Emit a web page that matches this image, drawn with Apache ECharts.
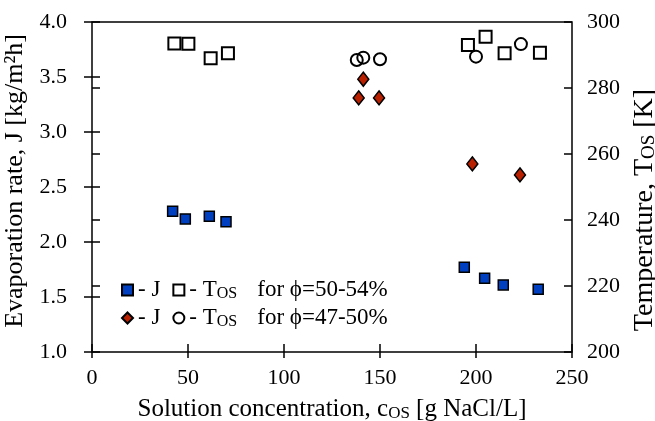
<!DOCTYPE html>
<html><head><meta charset="utf-8">
<script src="https://cdn.jsdelivr.net/npm/echarts@6/dist/echarts.min.js"></script>
<style>html,body{margin:0;padding:0;background:#fff}#c{width:655px;height:421px}</style>
</head><body><div id="c"></div>
<script>
// Data
const j50X = [42.0, 48.6, 61.1, 69.8, 193.9, 204.5, 214.2, 232.4];
const j50Y = [2.28, 2.21, 2.235, 2.185, 1.77, 1.67, 1.61, 1.57];
const t50X = [42.9, 50.2, 61.8, 70.8, 195.8, 205.0, 214.9, 233.3];
const t50Y = [293.5, 293.4, 289.0, 290.5, 293.0, 295.5, 290.5, 290.7];
const j47X = [141.3, 138.9, 149.5, 198.1, 222.9];
const j47Y = [3.48, 3.31, 3.31, 2.71, 2.61];
const t47X = [137.9, 141.3, 150.0, 200.0, 223.4];
const t47Y = [288.5, 289.2, 288.7, 289.5, 293.3];
const xTicks = [0, 50, 100, 150, 200, 250];
const jTicks = [1.0, 1.5, 2.0, 2.5, 3.0, 3.5, 4.0];
const tTicks = [200, 220, 240, 260, 280, 300];

const zip = (a, b) => a.map((v, i) => [v, b[i]]);
const F = 'Liberation Serif, Times New Roman, serif';

const chart = echarts.init(document.getElementById('c'), null, {renderer: 'canvas'});
const baseY = (min, max, interval, pos, inside, showLabel, margin, fmt) => ({
  type: 'value', position: pos, min, max, interval,
  splitLine: {show: false},
  axisLine: {show: false},
  axisTick: {show: true, inside, length: 8, lineStyle: {color: '#000', width: 1.5}},
  axisLabel: {show: showLabel, color: '#000', fontFamily: F, fontSize: 22, margin, formatter: fmt}
});
const yJ = baseY(jTicks[0], jTicks[jTicks.length-1], 0.5, 'left', false, true, 25, v => v.toFixed(1));
yJ.name = 'Evaporation rate, J [kg/m²h]';
yJ.nameLocation = 'middle'; yJ.nameGap = 48;
yJ.nameTextStyle = {color: '#000', fontFamily: F, fontSize: 26, padding: [0, 0, 0, 12]};
const yT = baseY(tTicks[0], tTicks[tTicks.length-1], 20, 'right', false, true, 15, v => String(v));
yT.name = 'Temperature, T{sub|OS} [K]';
yT.nameLocation = 'middle'; yT.nameGap = 58; yT.nameRotate = 90;
yT.nameTextStyle = {color: '#000', fontFamily: F, fontSize: 28, padding: [0, 46, 0, 0],
  rich: {sub: {fontSize: 19, fontFamily: F, color: '#000', verticalAlign: 'bottom', padding: [9, 0, 0, 0]}}};
const yJi = baseY(jTicks[0], jTicks[jTicks.length-1], 0.5, 'left', true, false, 0);
const yTi = baseY(tTicks[0], tTicks[tTicks.length-1], 20, 'right', true, false, 0);

const xMain = {
  type: 'value', min: xTicks[0], max: xTicks[xTicks.length-1], interval: 50, position: 'bottom',
  splitLine: {show: false}, axisLine: {show: false},
  axisTick: {show: true, inside: false, length: 6, lineStyle: {color: '#000', width: 1.5}},
  axisLabel: {color: '#000', fontFamily: F, fontSize: 22, margin: 15},
  name: 'Solution concentration, c{sub|OS} [g NaCl/L]', nameLocation: 'middle', nameGap: 45,
  nameTextStyle: {color: '#000', fontFamily: F, fontSize: 25,
    rich: {sub: {fontSize: 17, fontFamily: F, color: '#000', verticalAlign: 'bottom', padding: [8, 0, 0, 0]}}}
};
const xIn = {
  type: 'value', min: xTicks[0], max: xTicks[xTicks.length-1], interval: 50, position: 'bottom',
  splitLine: {show: false}, axisLine: {show: false},
  axisTick: {show: true, inside: true, length: 8, lineStyle: {color: '#000', width: 1.5}},
  axisLabel: {show: false}
};

const legendText = {color: '#000', fontFamily: F, fontSize: 23, lineHeight: 24,
  rich: {sub: {fontSize: 16, fontFamily: F, color: '#000', verticalAlign: 'bottom', padding: [7, 0, 0, 0]},
         g: {width: 20}}};
const fmtLegend = name => ({
  J50: '- J', T50: '- T{sub|OS}{g|}for ϕ=50-54%',
  J47: '- J', T47: '- T{sub|OS}{g|}for ϕ=47-50%'
})[name];

chart.setOption({
  animation: false,
  backgroundColor: '#fff',
  grid: {left: 92, right: 83, top: 22, bottom: 69, show: true, borderColor: '#000', borderWidth: 1.5,
         backgroundColor: 'transparent', containLabel: false, outerBoundsMode: 'none'},
  xAxis: [xMain, xIn],
  yAxis: [yJ, yT, yJi, yTi],
  legend: [
    {data: ['J50', 'T50'], left: 121, top: 278, padding: 0, itemWidth: 11, itemHeight: 11, itemGap: 12, formatter: fmtLegend, textStyle: legendText, selectedMode: false},
    {data: ['J47', 'T47'], left: 121, top: 306, padding: 0, itemWidth: 11, itemHeight: 11, itemGap: 12, formatter: fmtLegend, textStyle: legendText, selectedMode: false}
  ],
  series: [
    {name: 'T50', type: 'scatter', xAxisIndex: 0, yAxisIndex: 1, symbol: 'rect', symbolSize: 12,
     itemStyle: {color: 'rgba(255,255,255,0)', borderColor: '#000', borderWidth: 2, opacity: 1}, data: zip(t50X, t50Y)},
    {name: 'T47', type: 'scatter', xAxisIndex: 0, yAxisIndex: 1, symbol: 'circle', symbolSize: 12,
     itemStyle: {color: 'rgba(255,255,255,0)', borderColor: '#000', borderWidth: 2, opacity: 1}, data: zip(t47X, t47Y)},
    {name: 'J50', type: 'scatter', xAxisIndex: 0, yAxisIndex: 0, symbol: 'rect', symbolSize: 10,
     itemStyle: {color: '#0040c0', borderColor: '#000', borderWidth: 1.5, opacity: 1}, data: zip(j50X, j50Y)},
    {name: 'J47', type: 'scatter', xAxisIndex: 0, yAxisIndex: 0, symbol: 'diamond', symbolSize: [11, 14],
     itemStyle: {color: '#b82000', borderColor: '#000', borderWidth: 1.5, opacity: 1}, data: zip(j47X, j47Y)}
  ]
});
</script></body></html>
